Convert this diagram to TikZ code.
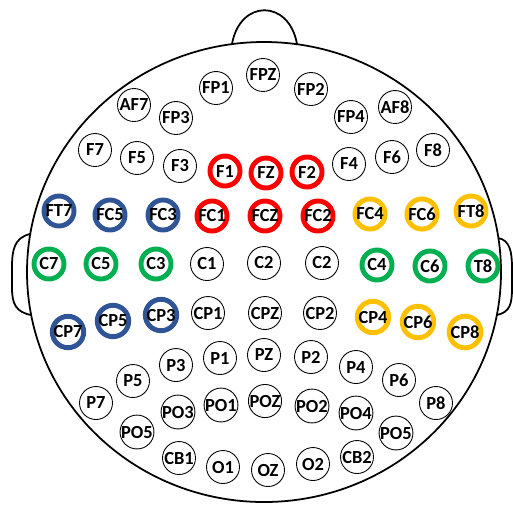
\documentclass[tikz,border=0pt]{standalone}
\usepackage{fontspec}
\setsansfont{Carlito}
\usepackage{xcolor}
\usepackage{tikz}
\usetikzlibrary{shapes.geometric, positioning, calc}
\definecolor{eegred}{HTML}{FF0000}
\definecolor{eegblue}{HTML}{2F5597}
\definecolor{eeggreen}{HTML}{00B050}
\definecolor{eegamber}{HTML}{FFC000}

\begin{document}
\begin{tikzpicture}[
    x=0.02cm, y=-0.02cm,
    elec/.style={circle, draw=black, line width=0.5pt, minimum size=0.66cm,
        inner sep=0pt, font=\sffamily\bfseries\fontsize{10.5}{11}\selectfont},
    ring/.style={elec, line width=2.8pt, minimum size=0.6cm},
    head/.style={draw=black, line width=1pt}
]
    \useasboundingbox (0,0) rectangle (513,505);

    % head outline, nose and ears
    \draw[head] (264,272) ellipse [x radius=237, y radius=230];
    \draw[head] (232,44) .. controls (240,-1) and (289,-1) .. (297,44);
    \draw[head] (30,234) .. controls (14,238) and (12,250) .. (12,268)
        -- (12,288) .. controls (12,304) and (16,312) .. (31,315);
    \draw[head] (498,238) .. controls (510,240) and (512,252) .. (512,268)
        -- (512,288) .. controls (512,304) and (510,312) .. (497,315);

    % plain electrodes
    \foreach \n/\t/\px/\py in {
        fp1/FP1/216/88, fpz/FPZ/263/75, fp2/FP2/311/89,
        af7/AF7/134/105, fp3/FP3/176/118, fp4/FP4/351/117, af8/AF8/395/107,
        f7/F7/95/150, f5/F5/137/158, f3/F3/180/166,
        f4/F4/349/164, f6/F6/392/157, f8/F8/433/150,
        c1/C1/207/264, cz/C2/264/263, c2/C2/322/263,
        cp1/CP1/208/313, cpz/CPZ/265/313, cp2/CP2/320/313,
        p7/P7/96/403, p5/P5/133/381, p3/P3/176/365, p1/P1/220/358,
        pz/PZ/264/355, p2/P2/311/357, p4/P4/356/367, p6/P6/399/380, p8/P8/436/403,
        po5/PO5/137/432, po3/PO3/178/412, po1/PO1/221/405, poz/POZ/265/401,
        po2/PO2/312/406, po4/PO4/356/413, po6/PO5/396/433,
        cb1/CB1/179/458, o1/O1/223/467, oz/OZ/268/470, o2/O2/313/464, cb2/CB2/357/457}
        \node[elec] (\n) at (\px,\py) {\t};

    % frontal midline group
    \foreach \n/\t/\px/\py in {
        f1/F1/225/171, fz/FZ/266/173, f2/F2/307/172,
        fc1/FC1/212/216, fcz/FCZ/265/216, fc2/FC2/318/216}
        \node[ring, draw=eegred] (\n) at (\px,\py) {\t};

    % left fronto-centro-parietal group
    \foreach \n/\t/\px/\py in {
        ft7/FT7/59/211, fc5/FC5/110/215, fc3/FC3/163/215,
        cp7/CP7/68/332, cp5/CP5/113/321, cp3/CP3/161/315}
        \node[ring, draw=eegblue] (\n) at (\px,\py) {\t};

    % central group
    \foreach \n/\t/\px/\py in {
        c7/C7/49/264, c5/C5/101/264, c3/C3/156/264,
        c4/C4/377/265, c6/C6/430/266, t8/T8/483/266}
        \node[ring, draw=eeggreen] (\n) at (\px,\py) {\t};

    % right fronto-centro-parietal group
    \foreach \n/\t/\px/\py in {
        fc4/FC4/370/214, fc6/FC6/422/214, ft8/FT8/471/211,
        cp4/CP4/373/317, cp6/CP6/418/322, cp8/CP8/465/332}
        \node[ring, draw=eegamber] (\n) at (\px,\py) {\t};
\end{tikzpicture}
\end{document}
